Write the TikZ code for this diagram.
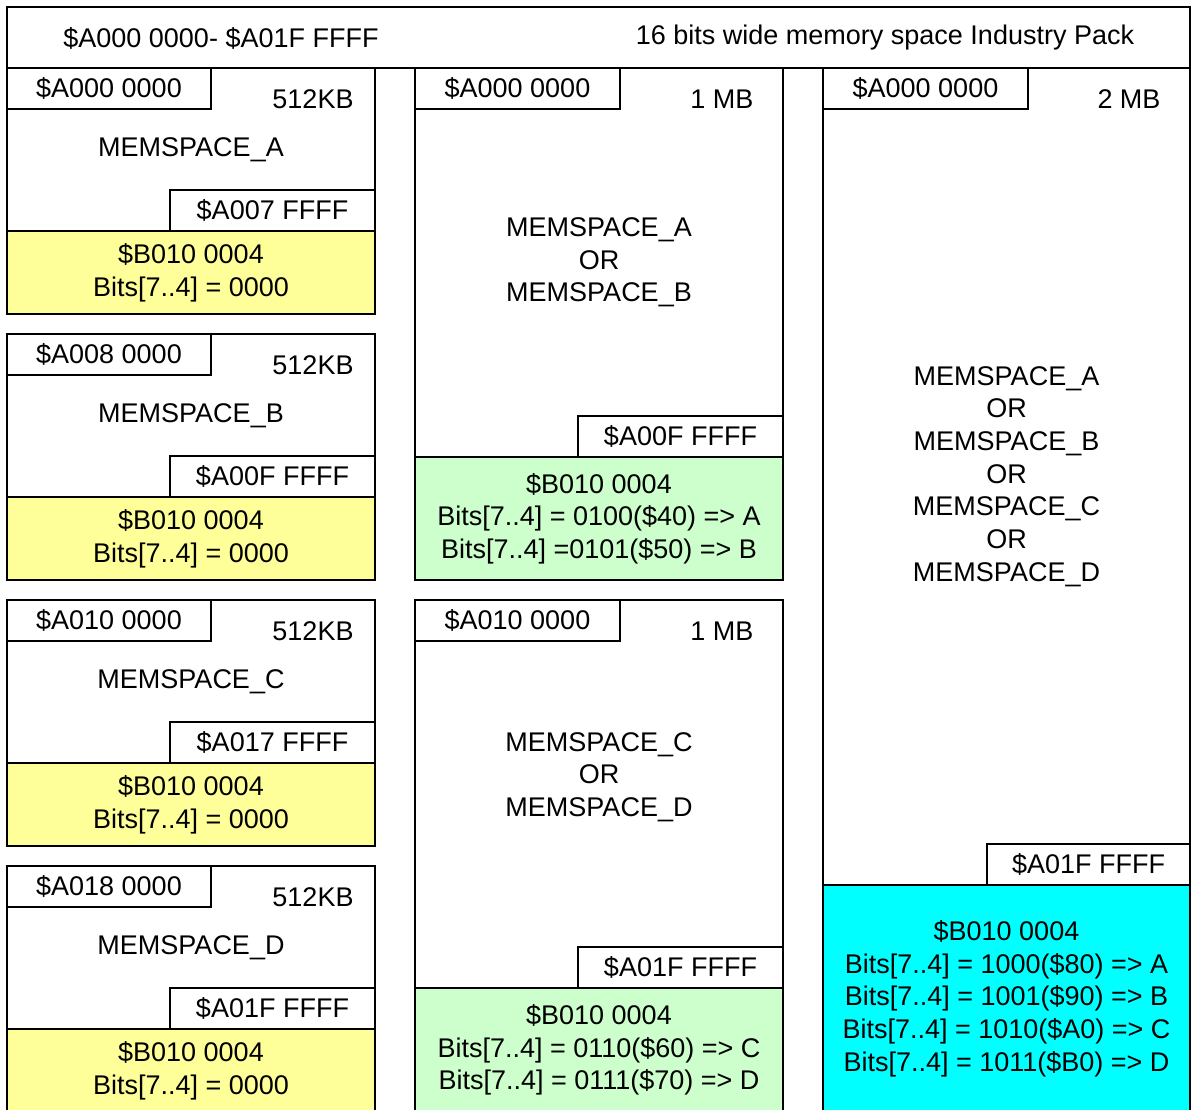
\documentclass[tikz,border=0pt]{standalone}
\usepackage{fontspec}
\setmainfont{Liberation Sans}
\usetikzlibrary{positioning}
\definecolor{selyellow}{HTML}{FFFF99}
\definecolor{selgreen}{HTML}{CCFFCC}
\definecolor{selcyan}{HTML}{00FFFF}

\begin{document}
\begin{tikzpicture}[x=1pt,y=-1pt,
            every node/.style={font=\fontsize{27}{32.7}\selectfont,
                inner sep=0pt, outer sep=0pt},
            cell/.style={draw=black, line width=1.5pt, fill=white,
                anchor=north west, align=center},
            tag/.style={cell, minimum width=204pt, minimum height=41pt},
            quarter/.style={cell, minimum width=368pt},
            half/.style={cell, minimum width=368pt},
            whole/.style={cell, minimum width=367pt}]
            \useasboundingbox (0,0) rectangle (1191,1109);

            % header
            \node[cell, minimum width=1183pt, minimum height=61pt] (head) at (7,7) {};
            \node (headrange) at (221,38) {\$A000 0000- \$A01F FFFF};
            \node (headtitle) at (885,38) {16 bits wide memory space Industry Pack};

            % first column: 512KB windows
            \node[quarter, minimum height=163pt] (memA) at (7,68) {MEMSPACE\_A};
            \node[quarter, minimum height=83pt, fill=selyellow] (selA) at (7,231)
                {\$B010 0004\\Bits[7..4] = 0000};
            \node[tag] (startA) at (7,68) {\$A000 0000};
            \node[tag, minimum width=205pt] (endA) at (170,190) {\$A007 FFFF};
            \node (sizeA) at (313,99) {512KB};

            \node[quarter, minimum height=163pt] (memB) at (7,334) {MEMSPACE\_B};
            \node[quarter, minimum height=83pt, fill=selyellow] (selB) at (7,497)
                {\$B010 0004\\Bits[7..4] = 0000};
            \node[tag] (startB) at (7,334) {\$A008 0000};
            \node[tag, minimum width=205pt] (endB) at (170,456) {\$A00F FFFF};
            \node (sizeB) at (313,365) {512KB};

            \node[quarter, minimum height=163pt] (memC) at (7,600) {MEMSPACE\_C};
            \node[quarter, minimum height=83pt, fill=selyellow] (selC) at (7,763)
                {\$B010 0004\\Bits[7..4] = 0000};
            \node[tag] (startC) at (7,600) {\$A010 0000};
            \node[tag, minimum width=205pt] (endC) at (170,722) {\$A017 FFFF};
            \node (sizeC) at (313,631) {512KB};

            \node[quarter, minimum height=163pt] (memD) at (7,866) {MEMSPACE\_D};
            \node[quarter, minimum height=83pt, fill=selyellow] (selD) at (7,1029)
                {\$B010 0004\\Bits[7..4] = 0000};
            \node[tag] (startD) at (7,866) {\$A018 0000};
            \node[tag, minimum width=205pt] (endD) at (170,988) {\$A01F FFFF};
            \node (sizeD) at (313,897) {512KB};

            % second column: 1 MB windows
            \node[half, minimum height=389pt] (memAB) at (415,68)
                {MEMSPACE\_A\\OR\\MEMSPACE\_B};
            \node[half, minimum height=123pt, fill=selgreen] (selAB) at (415,457)
                {\$B010 0004\\Bits[7..4] = 0100(\$40) => A\\Bits[7..4] =0101(\$50) => B};
            \node[tag, minimum width=205pt] (startAB) at (415,68) {\$A000 0000};
            \node[tag, minimum width=205pt] (endAB) at (578,416) {\$A00F FFFF};
            \node (sizeAB) at (722,99) {1 MB};

            \node[half, minimum height=388pt] (memCD) at (415,600) {};
            \node[align=center] (nameCD) at (599,777) {MEMSPACE\_C\\OR\\MEMSPACE\_D};
            \node[half, minimum height=124pt, fill=selgreen] (selCD) at (415,988)
                {\$B010 0004\\Bits[7..4] = 0110(\$60) => C\\Bits[7..4] = 0111(\$70) => D};
            \node[tag, minimum width=205pt] (startCD) at (415,600) {\$A010 0000};
            \node[tag, minimum width=205pt] (endCD) at (578,947) {\$A01F FFFF};
            \node (sizeCD) at (722,631) {1 MB};

            % third column: 2 MB window
            \node[whole, minimum height=817pt] (memAll) at (823,68)
                {MEMSPACE\_A\\OR\\MEMSPACE\_B\\OR\\MEMSPACE\_C\\OR\\MEMSPACE\_D};
            \node[whole, minimum height=227pt, fill=selcyan] (selAll) at (823,885)
                {\$B010 0004\\Bits[7..4] = 1000(\$80) => A\\Bits[7..4] = 1001(\$90) => B\\
                 Bits[7..4] = 1010(\$A0) => C\\Bits[7..4] = 1011(\$B0) => D};
            \node[tag, minimum width=205pt] (startAll) at (823,68) {\$A000 0000};
            \node[tag, minimum width=203pt] (endAll) at (987,844) {\$A01F FFFF};
            \node (sizeAll) at (1129,99) {2 MB};

        \end{tikzpicture}
\end{document}
